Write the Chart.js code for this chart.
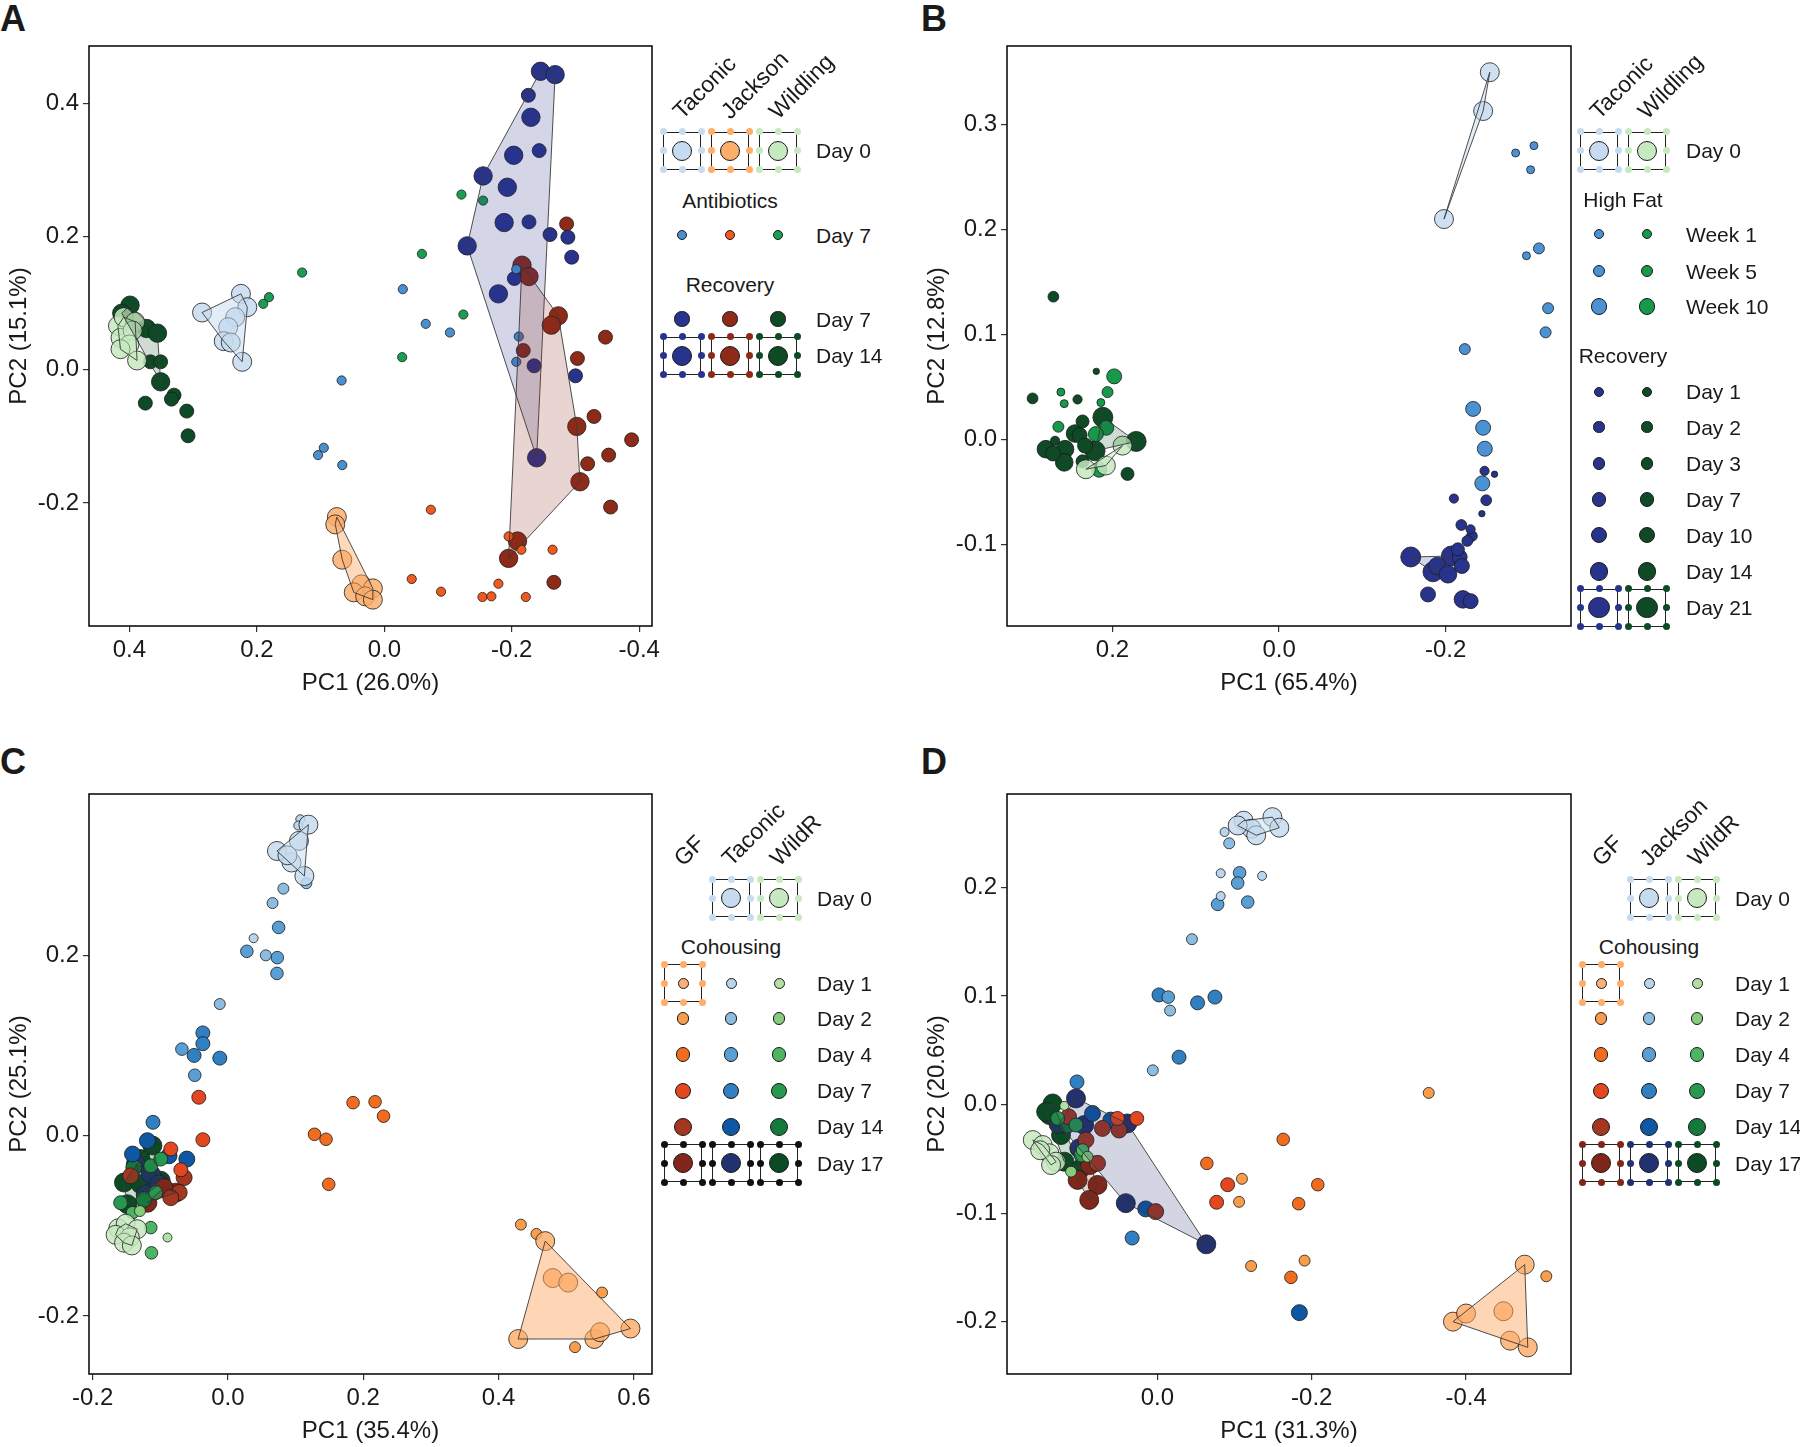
<!DOCTYPE html>
<html>
<head>
<meta charset="utf-8">
<script src="https://cdn.jsdelivr.net/npm/chart.js@4.4.1/dist/chart.umd.min.js"></script>
<style>
  html, body { margin: 0; padding: 0; background: #fff; }
  body { width: 1800px; height: 1447px; position: relative; overflow: hidden;
         font-family: "Liberation Sans", Arial, sans-serif; color: #1a1a1a; }
  canvas { position: absolute; }
  .letter { position: absolute; font-weight: bold; font-size: 36px; line-height: 1; }
  .lg { position: absolute; font-size: 21px; line-height: 21px; white-space: nowrap; }
  .hd { position: absolute; font-size: 23px; line-height: 23px; white-space: nowrap;
        transform-origin: 0 100%; transform: rotate(-45deg); }
  .dot { position: absolute; border-radius: 50%; box-sizing: border-box; border: 1px solid #1a1a1a; }
  .frm { position: absolute; width: 38px; height: 38px; box-sizing: border-box; border: 1.4px solid #222; }
  .pip { position: absolute; width: 7px; height: 7px; border-radius: 50%; }
</style>
</head>
<body>
<div class="letter" style="left:0px;top:1px">A</div>
<div class="letter" style="left:921px;top:1px">B</div>
<div class="letter" style="left:0px;top:744px">C</div>
<div class="letter" style="left:921px;top:744px">D</div>

<script>
const FONT = '"Liberation Sans", Arial, sans-serif';

// ---------- Panel A: antibiotics (PC1, PC2) ----------
const aXTicks = [0.4, 0.2, 0.0, -0.2, -0.4];
const aYTicks = [0.4, 0.2, 0.0, -0.2];
const aTaconicDay0 = [[0.286,0.086],[0.225,0.114],[0.215,0.094],[0.234,0.079],[0.245,0.064],[0.252,0.043],[0.241,0.041],[0.223,0.012]];
const aJacksonDay0 = [[0.0745,-0.221],[0.077,-0.232],[0.066,-0.285],[0.036,-0.322],[0.018,-0.328],[0.048,-0.334],[0.030,-0.340],[0.018,-0.345]];
const aWildlingDay0 = [[0.418,0.066],[0.409,0.079],[0.391,0.072],[0.414,0.048],[0.395,0.059],[0.40,0.038],[0.414,0.031],[0.388,0.014]];
const aTaconicAbx = [[-0.029,0.121],[-0.065,0.069],[-0.103,0.056],[0.067,-0.016],[0.095,-0.117],[0.104,-0.128],[0.066,-0.143],[-0.207,0.151],[-0.211,0.050],[-0.207,0.012]];
const aJacksonAbx = [[-0.073,-0.210],[-0.043,-0.314],[-0.089,-0.333],[-0.154,-0.341],[-0.168,-0.340],[-0.179,-0.321],[-0.195,-0.250],[-0.215,-0.270],[-0.264,-0.270],[-0.222,-0.341]];
const aWildlingAbx = [[-0.121,0.263],[-0.155,0.254],[-0.059,0.174],[0.129,0.146],[0.181,0.109],[0.19,0.099],[-0.124,0.083],[-0.028,0.019]];
const aTaconicRec7 = [[-0.226,0.412],[-0.243,0.329],[-0.227,0.222],[-0.260,0.203],[-0.288,0.199],[-0.294,0.169],[-0.204,0.137],[-0.235,0.006],[-0.300,-0.009]];
const aTaconicRec14 = [[-0.245,0.448],[-0.268,0.443],[-0.230,0.379],[-0.203,0.322],[-0.155,0.291],[-0.193,0.274],[-0.188,0.221],[-0.130,0.186],[-0.179,0.114],[-0.239,-0.132]];
const aJacksonRec7 = [[-0.286,0.219],[-0.347,0.049],[-0.303,0.017],[-0.218,0.029],[-0.329,-0.070],[-0.388,-0.105],[-0.352,-0.128],[-0.319,-0.141],[-0.355,-0.206],[-0.266,-0.319]];
const aJacksonRec14 = [[-0.216,0.157],[-0.227,0.140],[-0.273,0.081],[-0.262,0.067],[-0.302,-0.085],[-0.307,-0.168],[-0.209,-0.257],[-0.195,-0.283]];
const aWildlingRec7 = [[0.367,0.012],[0.351,0.012],[0.330,-0.038],[0.334,-0.044],[0.375,-0.050],[0.310,-0.062],[0.308,-0.099]];
const aWildlingRec14 = [[0.399,0.097],[0.412,0.085],[0.373,0.062],[0.356,0.055],[0.351,-0.018]];

// ---------- Panel B: high fat diet ----------
const bXTicks = [0.2, 0.0, -0.2];
const bYTicks = [0.3, 0.2, 0.1, 0.0, -0.1];
const bTaconicDay0 = [[-0.253,0.350],[-0.245,0.313],[-0.198,0.210]];
const bWildlingDay0 = [[0.188,-0.006],[0.232,-0.0285],[0.208,-0.025]];
const bTaconicWk1 = [[-0.284,0.273],[-0.306,0.280],[-0.302,0.257],[-0.297,0.175]];
const bTaconicWk5 = [[-0.312,0.182],[-0.323,0.125],[-0.320,0.102],[-0.223,0.086]];
const bTaconicWk10 = [[-0.233,0.029],[-0.245,0.011],[-0.247,-0.009],[-0.244,-0.042]];
const bWildlingWk1 = [[0.262,0.045],[0.258,0.034],[0.214,0.035]];
const bWildlingWk5 = [[0.206,0.045],[0.265,0.012]];
const bWildlingWk10 = [[0.198,0.060],[0.2075,0.011],[0.220,0.005],[0.216,-0.029]];
const bTaconicRec1 = [[-0.2587,-0.0333],[-0.2435,-0.0709]];
const bTaconicRec2 = [[-0.2467,-0.0301],[-0.2099,-0.0565],[-0.2299,-0.0858]];
const bTaconicRec3 = [[-0.2487,-0.0581],[-0.2188,-0.0817],[-0.2315,-0.0922],[-0.226,-0.0969]];
const bTaconicRec7 = [[-0.2147,-0.1049]];
const bTaconicRec10 = [[-0.2168,-0.1122],[-0.2195,-0.1208],[-0.1788,-0.1479],[-0.230,-0.1543]];
const bTaconicRec14 = [[-0.190,-0.1208],[-0.2028,-0.1287],[-0.2207,-0.1526]];
const bTaconicRec21 = [[-0.1581,-0.1122],[-0.2068,-0.1113],[-0.1848,-0.1263]];
const bWildlingRec1 = [[0.2195,0.0648]];
const bWildlingRec2 = [[0.242,0.038],[0.269,-0.0014]];
const bWildlingRec3 = [[0.271,0.136],[0.296,0.039]];
const bWildlingRec7 = [[0.236,0.017],[0.236,-0.021],[0.182,-0.033]];
const bWildlingRec10 = [[0.2395,0.004],[0.2715,-0.0135],[0.233,-0.006]];
const bWildlingRec14 = [[0.245,0.0055],[0.280,-0.0094],[0.257,-0.0094],[0.258,-0.022]];
const bWildlingRec21 = [[0.2116,0.021],[0.1716,-0.002],[0.221,-0.011]];

// ---------- Panel C: cohousing GF / Taconic / WildR ----------
const cXTicks = [-0.2, 0.0, 0.2, 0.4, 0.6];
const cYTicks = [0.2, 0.0, -0.2];
const cTaconicDay0 = [[0.0725,0.3158],[0.105,0.327],[0.094,0.303],[0.113,0.288],[0.119,0.345],[0.088,0.311]];
const cWildRDay0 = [[-0.162,-0.1028],[-0.151,-0.0977],[-0.134,-0.1038],[-0.166,-0.110],[-0.145,-0.1128],[-0.1535,-0.1188],[-0.142,-0.1218]];
const cGFDay1 = [[0.469,-0.117],[0.48,-0.158],[0.503,-0.163],[0.429,-0.2256],[0.5416,-0.2256],[0.55,-0.218],[0.595,-0.214]];
const cGFDay2 = [[0.433,-0.0987],[0.456,-0.109],[0.553,-0.174],[0.513,-0.2346]];
const cGFDay4 = [[0.185,0.0366],[0.2175,0.0376],[0.230,0.0216],[0.128,0.0015],[0.145,-0.004],[0.149,-0.054]];
const cGFDay7 = [[-0.043,0.0426],[-0.037,-0.0045],[-0.0844,-0.0148],[-0.0696,-0.0379]];
const cGFDay14 = [[-0.0647,-0.0465],[-0.072,-0.063],[-0.0844,-0.0688],[-0.1437,-0.0446]];
const cGFDay17 = [[-0.077,-0.0632],[-0.119,-0.0744],[-0.095,-0.058]];
const cTaconicDay1 = [[0.107,0.351],[0.104,0.344],[0.038,0.219]];
const cTaconicDay2 = [[0.116,0.280],[0.082,0.274],[0.066,0.258],[0.056,0.2],[-0.012,0.146]];
const cTaconicDay4 = [[0.075,0.231],[0.028,0.2045],[0.073,0.1975],[0.0725,0.18],[-0.068,0.096],[-0.049,0.067]];
const cTaconicDay7 = [[-0.037,0.114],[-0.050,0.089],[-0.037,0.102],[-0.012,0.086],[-0.1107,0.0148]];
const cTaconicDay14 = [[-0.0607,-0.026],[-0.141,-0.0204],[-0.119,-0.0056],[-0.087,-0.0223]];
const cTaconicDay17 = [[-0.114,-0.0427],[-0.1215,-0.065],[-0.136,-0.0315],[-0.1018,-0.054]];
const cWildRDay1 = [[-0.0893,-0.113]];
const cWildRDay2 = [[-0.130,-0.0836]];
const cWildRDay4 = [[-0.141,-0.0855],[-0.113,-0.130],[-0.114,-0.102]];
const cWildRDay7 = [[-0.114,-0.0334],[-0.0993,-0.026],[-0.1067,-0.0632],[-0.1585,-0.0744]];
const cWildRDay14 = [[-0.139,-0.0353],[-0.124,-0.0706]];
const cWildRDay17 = [[-0.1116,-0.011],[-0.1536,-0.052],[-0.129,-0.0538],[-0.0993,-0.050],[-0.1486,-0.076],[-0.129,-0.026]];

// ---------- Panel D: cohousing GF / Jackson / WildR ----------
const dXTicks = [0.0, -0.2, -0.4];
const dYTicks = [0.2, 0.1, 0.0, -0.1, -0.2];
const dJacksonDay0 = [[-0.1117,0.2614],[-0.122,0.254],[-0.149,0.2647],[-0.158,0.255],[-0.128,0.248],[-0.104,0.257]];
const dWildRDay0 = [[0.1616,-0.0326],[0.1487,-0.0372],[0.140,-0.0448],[0.1314,-0.0525],[0.1379,-0.0556],[0.152,-0.042]];
const dGFDay1 = [[-0.383,-0.1998],[-0.40,-0.1923],[-0.4484,-0.1902],[-0.457,-0.2173],[-0.476,-0.1473],[-0.480,-0.2235]];
const dGFDay2 = [[-0.3516,0.0108],[-0.504,-0.158],[-0.1214,-0.1486],[-0.1907,-0.1436],[-0.1095,-0.0683],[-0.1058,-0.0895]];
const dGFDay4 = [[-0.163,-0.032],[-0.064,-0.0541],[-0.2078,-0.0737],[-0.183,-0.0912],[-0.173,-0.159]];
const dGFDay7 = [[-0.091,-0.0737],[-0.0767,-0.0899],[0.0519,-0.0127],[0.0268,-0.0127]];
const dGFDay14 = [[0.0713,-0.0219],[0.0497,-0.0234],[0.1151,-0.0112],[0.0927,-0.0326],[0.0777,-0.054],[0.0023,-0.0985]];
const dGFDay17 = [[0.0875,-0.0556],[0.1035,-0.0693],[0.0777,-0.0739],[0.0884,-0.0877]];
const dJacksonDay1 = [[-0.087,0.251],[-0.082,0.213],[-0.082,0.192],[-0.1356,0.2106]];
const dJacksonDay2 = [[-0.093,0.2406],[-0.0447,0.1523],[-0.0164,0.0866],[0.006,0.0316]];
const dJacksonDay4 = [[-0.1065,0.2135],[-0.078,0.1844],[-0.117,0.1865],[-0.104,0.204],[-0.014,0.099]];
const dJacksonDay7 = [[-0.002,0.101],[-0.052,0.0937],[-0.0745,0.099],[-0.028,0.0437],[0.1043,0.0209],[0.0328,-0.1228]];
const dJacksonDay14 = [[0.0842,-0.0081],[0.0604,-0.0142],[0.0152,-0.096],[-0.184,-0.1915]];
const dJacksonDay17 = [[0.1056,0.0057],[0.039,-0.0173],[0.0949,-0.0188],[0.1013,-0.0402],[0.041,-0.0907],[-0.0633,-0.1286],[0.128,-0.018]];
const dWildRDay1 = [[0.1207,-0.0011]];
const dWildRDay2 = [[0.0906,-0.0479],[0.112,-0.0617]];
const dWildRDay4 = [[0.0971,-0.0418]];
const dWildRDay7 = [[0.1293,-0.0127],[0.1056,-0.0188],[0.0991,-0.0464]];
const dWildRDay14 = [[0.1164,-0.0188]];
const dWildRDay17 = [[0.140,-0.0096],[0.125,-0.028],[0.1207,-0.0525],[0.0991,-0.0586],[0.1358,0.0011],[0.1443,-0.0066]];

// colours
const TAC0 = '#c6dbef', JAC0 = '#fdae6b', WIL0 = '#c7e9c0';
const NAVY = '#28348c', DRED = '#8e2a18', DGRN = '#0d4a25';
const GF = ['#fbb07a', '#f99d4c', '#f26c1f', '#e2471f', '#a5361f', '#80261a'];
const BL = ['#b9d5ed', '#8cbde0', '#5a9fd4', '#2f7fc1', '#0d57a3', '#22316f'];
const GR = ['#b2dfa6', '#86cc7c', '#4cb462', '#279850', '#16793c', '#0b4a24'];

function rgba(hex, a) {
  const n = parseInt(hex.slice(1), 16);
  return `rgba(${n >> 16},${(n >> 8) & 255},${n & 255},${a})`;
}

// convex hull (monotone chain)
function hull(pts) {
  const p = pts.slice().sort((a, b) => a[0] - b[0] || a[1] - b[1]);
  if (p.length < 3) return p;
  const cross = (o, a, b) => (a[0] - o[0]) * (b[1] - o[1]) - (a[1] - o[1]) * (b[0] - o[0]);
  const lo = [], up = [];
  for (const q of p) {
    while (lo.length >= 2 && cross(lo[lo.length - 2], lo[lo.length - 1], q) <= 0) lo.pop();
    lo.push(q);
  }
  for (const q of p.slice().reverse()) {
    while (up.length >= 2 && cross(up[up.length - 2], up[up.length - 1], q) <= 0) up.pop();
    up.push(q);
  }
  return lo.slice(0, -1).concat(up.slice(0, -1));
}

function axis(min, max, reverse, ticks, title, horiz) {
  return {
    type: 'linear', min: min, max: max, reverse: reverse,
    afterBuildTicks: s => { s.ticks = ticks.map(v => ({ value: v })); },
    afterFit: s => {
      if (horiz) { s.height = 74; s.paddingLeft = 0; s.paddingRight = 0; }
      else { s.width = 89; s.paddingTop = 0; s.paddingBottom = 0; }
    },
    ticks: { font: { family: FONT, size: 24 }, color: '#1a1a1a', padding: 4,
             autoSkip: false, maxRotation: 0, callback: v => v.toFixed(1) },
    grid: { drawOnChartArea: false, drawTicks: true, tickLength: 6, color: '#333', lineWidth: 1.2 },
    border: { display: false },
    title: { display: true, text: title, color: '#1a1a1a',
             font: { family: FONT, size: 24 }, padding: { top: 5, bottom: 2 } }
  };
}

function panel(pos, series, xr, yr, xTicks, yTicks, xTitle, yTitle) {
  const cv = document.createElement('canvas');
  cv.width = pos.w + 20; cv.height = 658;
  cv.style.left = pos.left + 'px'; cv.style.top = pos.top + 'px';
  document.body.appendChild(cv);

  // hulls over the points, then the frame
  const hullBox = {
    id: 'hullBox',
    afterDatasetsDraw(chart) {
      const { ctx, chartArea: a, scales: { x, y } } = chart;
      ctx.save();
      ctx.beginPath(); ctx.rect(a.left, a.top, a.width, a.height); ctx.clip();
      series.filter(s => s.hull).forEach(s => {
        const h = hull(s.pts);
        ctx.beginPath();
        h.forEach((p, i) => {
          const px = x.getPixelForValue(p[0]), py = y.getPixelForValue(p[1]);
          i ? ctx.lineTo(px, py) : ctx.moveTo(px, py);
        });
        ctx.closePath();
        ctx.fillStyle = rgba(s.col, s.hull);
        ctx.fill();
        ctx.strokeStyle = '#3a3a3a'; ctx.lineWidth = 0.9;
        ctx.stroke();
      });
      ctx.restore();
      ctx.save();
      ctx.strokeStyle = '#111'; ctx.lineWidth = 1.6;
      ctx.strokeRect(a.left, a.top, a.width, a.height);
      ctx.restore();
    }
  };

  new Chart(cv, {
    type: 'scatter',
    data: {
      datasets: series.map(s => ({
        data: s.pts.map(p => ({ x: p[0], y: p[1] })),
        pointRadius: s.r,
        pointBackgroundColor: rgba(s.col, s.a || 1),
        pointBorderColor: '#1a1a1a',
        pointBorderWidth: 0.8
      }))
    },
    options: {
      responsive: false, animation: false, devicePixelRatio: 1, events: [],
      layout: { autoPadding: false, padding: { top: 4, right: 24, left: 0, bottom: 0 } },
      plugins: { legend: { display: false }, tooltip: { enabled: false } },
      scales: {
        x: axis(xr[0], xr[1], pos.rev, xTicks, xTitle, true),
        y: axis(yr[0], yr[1], false, yTicks, yTitle, false)
      }
    },
    plugins: [hullBox]
  });
}

// ---------- legends (HTML) ----------
function el(cls, css, text) {
  const d = document.createElement('div');
  d.className = cls;
  Object.assign(d.style, css);
  if (text) d.textContent = text;
  document.body.appendChild(d);
  return d;
}
function dot(x, y, r, color) {
  el('dot', { left: (x - r) + 'px', top: (y - r) + 'px', width: 2 * r + 'px', height: 2 * r + 'px', background: color });
}
function frame(x, y, pip) {
  el('frm', { left: (x - 19) + 'px', top: (y - 19) + 'px' });
  for (const dx of [-19, 0, 19]) for (const dy of [-19, 0, 19]) {
    if (dx || dy) el('pip', { left: (x + dx - 3.5) + 'px', top: (y + dy - 3.5) + 'px', background: pip });
  }
}
function legend(L) {
  L.heads.forEach((h, i) => el('hd', { left: (L.cols[i] + 3) + 'px', top: (L.headY - 23) + 'px' }, h));
  L.groups.forEach(g => el('lg', { left: g.x + 'px', top: (g.y - 10.5) + 'px', transform: 'translateX(-50%)' }, g.text));
  L.rows.forEach(row => {
    row.cells.forEach(c => {
      const x = L.cols[c[0]];
      if (c[3]) frame(x, row.y, c[3]);
      dot(x, row.y, c[2], c[1]);
    });
    el('lg', { left: L.textX + 'px', top: (row.y - 10.5) + 'px' }, row.text);
  });
}

// ---------- panel A ----------
panel({ left: 0, top: 42, w: 656, rev: true }, [
  { pts: aTaconicDay0, col: TAC0, r: 9.5, a: 0.85, hull: 0.5 },
  { pts: aJacksonDay0, col: JAC0, r: 9.5, a: 0.85, hull: 0.45 },
  { pts: aWildlingDay0, col: WIL0, r: 9.5, a: 0.85, hull: 0.5 },
  { pts: aTaconicAbx, col: '#4a90d0', r: 4.6 },
  { pts: aJacksonAbx, col: '#ef5a1e', r: 4.6 },
  { pts: aWildlingAbx, col: '#1b9e52', r: 4.6 },
  { pts: aTaconicRec7, col: NAVY, r: 7 },
  { pts: aJacksonRec7, col: DRED, r: 7 },
  { pts: aWildlingRec7, col: DGRN, r: 7 },
  { pts: aTaconicRec14, col: NAVY, r: 9.2, hull: 0.2 },
  { pts: aJacksonRec14, col: DRED, r: 9.2, hull: 0.2 },
  { pts: aWildlingRec14, col: DGRN, r: 9.2, hull: 0.2 }
], [-0.42, 0.4634], [-0.3845, 0.486], aXTicks, aYTicks, 'PC1 (26.0%)', 'PC2 (15.1%)');

legend({
  cols: [682, 730, 778], textX: 816, headY: 123,
  heads: ['Taconic', 'Jackson', 'Wildling'],
  groups: [{ text: 'Antibiotics', x: 730, y: 200 }, { text: 'Recovery', x: 730, y: 284 }],
  rows: [
    { y: 150.5, text: 'Day 0', cells: [[0, TAC0, 10, TAC0], [1, JAC0, 10, JAC0], [2, WIL0, 10, WIL0]] },
    { y: 235, text: 'Day 7', cells: [[0, '#4a90d0', 5.2], [1, '#ef5a1e', 5.2], [2, '#1b9e52', 5.2]] },
    { y: 319, text: 'Day 7', cells: [[0, NAVY, 7.7], [1, DRED, 7.7], [2, DGRN, 7.7]] },
    { y: 355.5, text: 'Day 14', cells: [[0, NAVY, 10, NAVY], [1, DRED, 10, DRED], [2, DGRN, 10, DGRN]] }
  ]
});

// ---------- panel B ----------
panel({ left: 918, top: 42, w: 657, rev: true }, [
  { pts: bTaconicDay0, col: TAC0, r: 9.5, a: 0.85, hull: 0.5 },
  { pts: bWildlingDay0, col: WIL0, r: 9.5, a: 0.85, hull: 0.5 },
  { pts: bTaconicWk1, col: '#4a92d1', r: 4 },
  { pts: bTaconicWk5, col: '#4a92d1', r: 5.5 },
  { pts: bTaconicWk10, col: '#4a92d1', r: 7.5 },
  { pts: bWildlingWk1, col: '#17994c', r: 4 },
  { pts: bWildlingWk5, col: '#17994c', r: 5.5 },
  { pts: bWildlingWk10, col: '#17994c', r: 7.5 },
  { pts: bTaconicRec1, col: NAVY, r: 3.2 },
  { pts: bTaconicRec2, col: NAVY, r: 4.6 },
  { pts: bTaconicRec3, col: NAVY, r: 5.4 },
  { pts: bTaconicRec7, col: NAVY, r: 6.5 },
  { pts: bTaconicRec10, col: NAVY, r: 7.5 },
  { pts: bTaconicRec14, col: NAVY, r: 8.8 },
  { pts: bTaconicRec21, col: NAVY, r: 10, hull: 0.2 },
  { pts: bWildlingRec1, col: DGRN, r: 3.2 },
  { pts: bWildlingRec2, col: DGRN, r: 4.6 },
  { pts: bWildlingRec3, col: DGRN, r: 5.4 },
  { pts: bWildlingRec7, col: DGRN, r: 6.5 },
  { pts: bWildlingRec10, col: DGRN, r: 7.5 },
  { pts: bWildlingRec14, col: DGRN, r: 8.8 },
  { pts: bWildlingRec21, col: DGRN, r: 10, hull: 0.2 }
], [-0.3505, 0.3267], [-0.178, 0.375], bXTicks, bYTicks, 'PC1 (65.4%)', 'PC2 (12.8%)');

legend({
  cols: [1599, 1647], textX: 1686, headY: 123,
  heads: ['Taconic', 'Wildling'],
  groups: [{ text: 'High Fat', x: 1623, y: 199 }, { text: 'Recovery', x: 1623, y: 355 }],
  rows: [
    { y: 150.5, text: 'Day 0', cells: [[0, TAC0, 10, TAC0], [1, WIL0, 10, WIL0]] },
    { y: 234, text: 'Week 1', cells: [[0, '#4a92d1', 5], [1, '#17994c', 5]] },
    { y: 271, text: 'Week 5', cells: [[0, '#4a92d1', 6.4], [1, '#17994c', 6.4]] },
    { y: 306.5, text: 'Week 10', cells: [[0, '#4a92d1', 8.4], [1, '#17994c', 8.4]] },
    { y: 391.5, text: 'Day 1', cells: [[0, NAVY, 5], [1, DGRN, 5]] },
    { y: 427, text: 'Day 2', cells: [[0, NAVY, 5.6], [1, DGRN, 5.6]] },
    { y: 463.5, text: 'Day 3', cells: [[0, NAVY, 6.3], [1, DGRN, 6.3]] },
    { y: 499.5, text: 'Day 7', cells: [[0, NAVY, 7.2], [1, DGRN, 7.2]] },
    { y: 535, text: 'Day 10', cells: [[0, NAVY, 8.2], [1, DGRN, 8.2]] },
    { y: 571.5, text: 'Day 14', cells: [[0, NAVY, 9.4], [1, DGRN, 9.4]] },
    { y: 607.5, text: 'Day 21', cells: [[0, NAVY, 10.6, NAVY], [1, DGRN, 10.6, DGRN]] }
  ]
});

// ---------- panel C ----------
panel({ left: 0, top: 790, w: 656, rev: false }, [
  { pts: cTaconicDay0, col: TAC0, r: 9.5, a: 0.85, hull: 0.5 },
  { pts: cWildRDay0, col: WIL0, r: 9.5, a: 0.85, hull: 0.5 },
  { pts: cGFDay1, col: JAC0, r: 9.5, a: 0.85, hull: 0.5 },
  { pts: cGFDay2, col: GF[1], r: 5.5 },
  { pts: cTaconicDay1, col: BL[0], r: 4.5 },
  { pts: cTaconicDay2, col: BL[1], r: 5.5 },
  { pts: cWildRDay1, col: GR[0], r: 4.5 },
  { pts: cWildRDay2, col: GR[1], r: 5.5 },
  { pts: cGFDay4, col: GF[2], r: 6.3 },
  { pts: cTaconicDay4, col: BL[2], r: 6.3 },
  { pts: cWildRDay4, col: GR[2], r: 6.3 },
  { pts: cGFDay7, col: GF[3], r: 7 },
  { pts: cTaconicDay7, col: BL[3], r: 7 },
  { pts: cWildRDay7, col: GR[3], r: 7 },
  { pts: cGFDay14, col: GF[4], r: 8 },
  { pts: cTaconicDay14, col: BL[4], r: 8 },
  { pts: cWildRDay14, col: GR[4], r: 8 },
  { pts: cGFDay17, col: GF[5], r: 9.5, hull: 0.2 },
  { pts: cTaconicDay17, col: BL[5], r: 9.5, hull: 0.2 },
  { pts: cWildRDay17, col: GR[5], r: 9.5, hull: 0.2 }
], [-0.2053, 0.6268], [-0.2644, 0.379], cXTicks, cYTicks, 'PC1 (35.4%)', 'PC2 (25.1%)');

const cohoRows = (pip17) => [
  { y: 983, text: 'Day 1', cells: [[0, GF[0], 5.5, JAC0], [1, BL[0], 5.5], [2, GR[0], 5.5]] },
  { y: 1018.5, text: 'Day 2', cells: [[0, GF[1], 6.3], [1, BL[1], 6.3], [2, GR[1], 6.3]] },
  { y: 1054.5, text: 'Day 4', cells: [[0, GF[2], 7.2], [1, BL[2], 7.2], [2, GR[2], 7.2]] },
  { y: 1090.5, text: 'Day 7', cells: [[0, GF[3], 8], [1, BL[3], 8], [2, GR[3], 8]] },
  { y: 1126.5, text: 'Day 14', cells: [[0, GF[4], 9], [1, BL[4], 9], [2, GR[4], 9]] },
  { y: 1163, text: 'Day 17', cells: [[0, GF[5], 10.3, pip17[0]], [1, BL[5], 10.3, pip17[1]], [2, GR[5], 10.3, pip17[2]]] }
];

legend({
  cols: [683, 731, 779], textX: 817, headY: 870,
  heads: ['GF', 'Taconic', 'WildR'],
  groups: [{ text: 'Cohousing', x: 731, y: 946 }],
  rows: [{ y: 898, text: 'Day 0', cells: [[1, TAC0, 10, TAC0], [2, WIL0, 10, WIL0]] }]
    .concat(cohoRows(['#111', '#111', '#111']))
});

// ---------- panel D ----------
panel({ left: 918, top: 790, w: 657, rev: true }, [
  { pts: dJacksonDay0, col: TAC0, r: 9.5, a: 0.85, hull: 0.5 },
  { pts: dWildRDay0, col: WIL0, r: 9.5, a: 0.85, hull: 0.5 },
  { pts: dGFDay1, col: JAC0, r: 9.5, a: 0.85, hull: 0.5 },
  { pts: dGFDay2, col: GF[1], r: 5.5 },
  { pts: dJacksonDay1, col: BL[0], r: 4.5 },
  { pts: dJacksonDay2, col: BL[1], r: 5.5 },
  { pts: dWildRDay1, col: GR[0], r: 4.5 },
  { pts: dWildRDay2, col: GR[1], r: 5.5 },
  { pts: dGFDay4, col: GF[2], r: 6.3 },
  { pts: dJacksonDay4, col: BL[2], r: 6.3 },
  { pts: dWildRDay4, col: GR[2], r: 6.3 },
  { pts: dGFDay7, col: GF[3], r: 7 },
  { pts: dJacksonDay7, col: BL[3], r: 7 },
  { pts: dWildRDay7, col: GR[3], r: 7 },
  { pts: dGFDay14, col: GF[4], r: 8 },
  { pts: dJacksonDay14, col: BL[4], r: 8 },
  { pts: dWildRDay14, col: GR[4], r: 8 },
  { pts: dGFDay17, col: GF[5], r: 9.5, hull: 0.2 },
  { pts: dJacksonDay17, col: BL[5], r: 9.5, hull: 0.2 },
  { pts: dWildRDay17, col: GR[5], r: 9.5, hull: 0.2 }
], [-0.536, 0.195], [-0.248, 0.286], dXTicks, dYTicks, 'PC1 (31.3%)', 'PC2 (20.6%)');

legend({
  cols: [1601, 1649, 1697], textX: 1735, headY: 870,
  heads: ['GF', 'Jackson', 'WildR'],
  groups: [{ text: 'Cohousing', x: 1649, y: 946 }],
  rows: [{ y: 898, text: 'Day 0', cells: [[1, TAC0, 10, TAC0], [2, WIL0, 10, WIL0]] }]
    .concat(cohoRows([GF[5], BL[5], GR[5]]))
});
</script>
</body>
</html>
